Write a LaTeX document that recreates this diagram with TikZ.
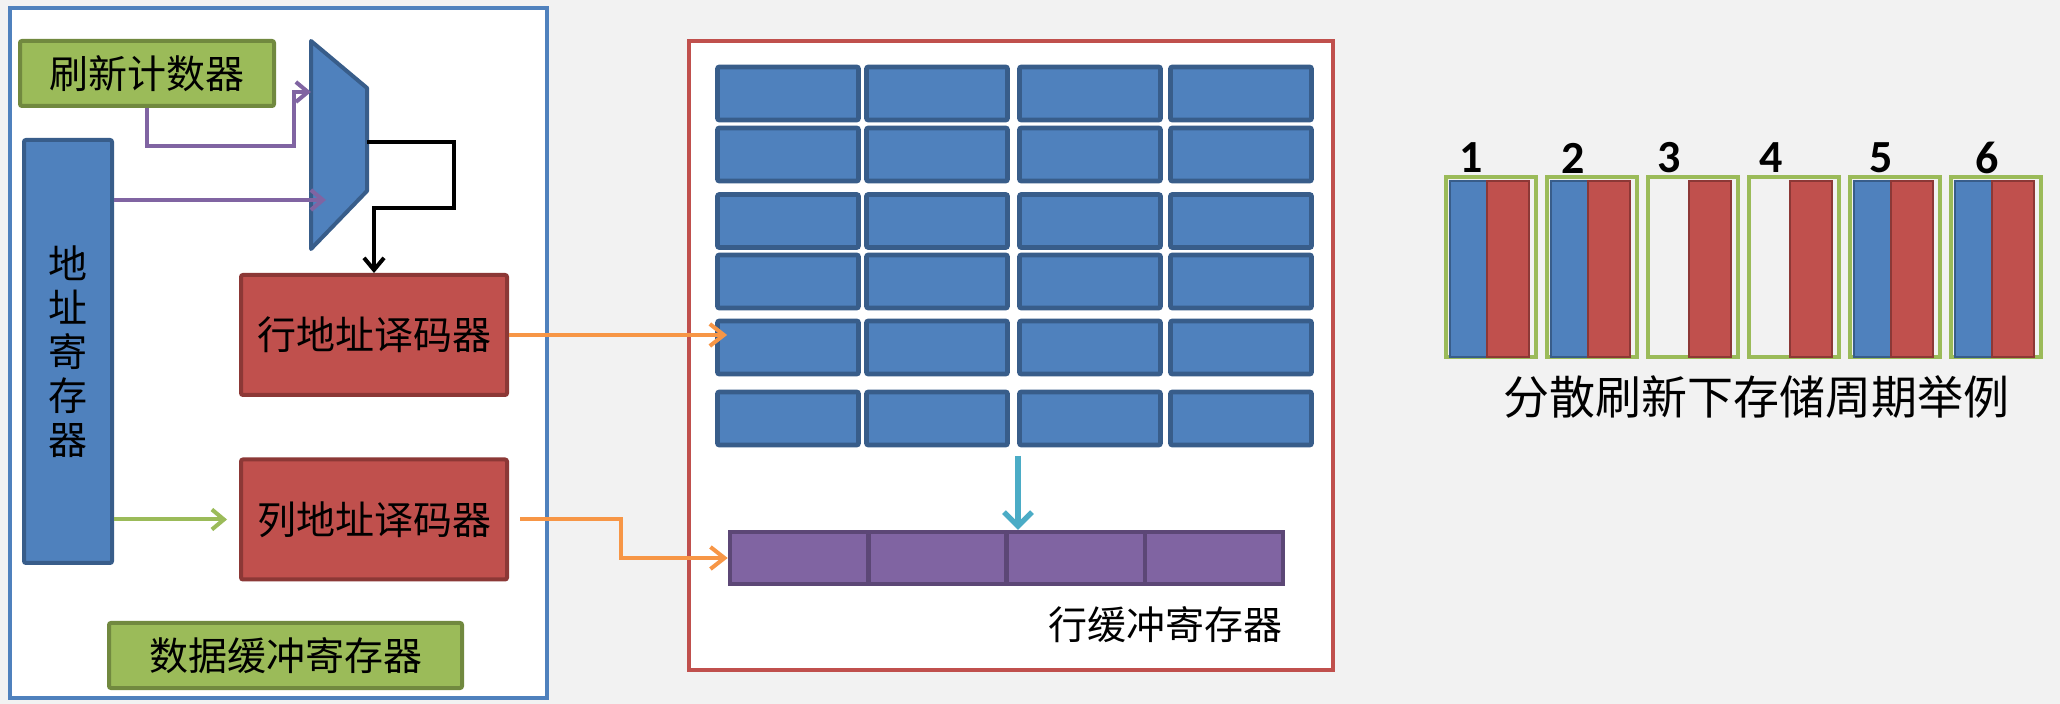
\documentclass[tikz,border=0pt]{standalone}
\usepackage{fontspec}
\newfontfamily\cjk{Noto Sans CJK SC}
\newfontfamily\digitfont{Carlito}
\usetikzlibrary{arrows.meta}
\definecolor{ofblue}{RGB}{79,129,189}
\definecolor{ofblueD}{RGB}{56,93,138}
\definecolor{ofred}{RGB}{192,80,77}
\definecolor{ofredD}{RGB}{140,56,54}
\definecolor{ofgreen}{RGB}{155,187,89}
\definecolor{ofgreenD}{RGB}{113,137,63}
\definecolor{ofpurple}{RGB}{128,100,162}
\definecolor{ofpurpleD}{RGB}{92,71,118}
\definecolor{oforange}{RGB}{247,150,70}
\definecolor{ofaqua}{RGB}{75,172,198}
\definecolor{bggray}{RGB}{242,242,242}
\begin{document}
\begin{tikzpicture}
  [x=0.5pt,y=-0.5pt,
   blk/.style={draw,line width=2pt,rounded corners=1pt,inner sep=0pt,font=\cjk\fontsize{19.5}{22}\selectfont},
   greenblk/.style={blk,fill=ofgreen,draw=ofgreenD},
   redblk/.style={blk,fill=ofred,draw=ofredD},
   blueblk/.style={blk,fill=ofblue,draw=ofblueD},
   cell/.style={blueblk,line width=2.4pt,minimum width=70.5pt,minimum height=26.5pt},
   bufcell/.style={blk,fill=ofpurple,draw=ofpurpleD,line width=2.2pt,rounded corners=0pt,minimum width=69.1pt,minimum height=26pt},
   frame/.style={fill=white,line width=2pt,inner sep=0pt},
   wire/.style={line width=2pt,-{Straight Barb[length=6pt,width=10pt]}},
   orangewire/.style={line width=2pt,oforange,-{Straight Barb[length=7pt,width=11pt]}},
   aquawire/.style={line width=2.6pt,ofaqua,-{Straight Barb[length=7pt,width=14pt]}}]
  \fill[bggray] (0,0) rectangle (2060,704);
  \node[frame,draw=ofblue,minimum width=268.5pt,minimum height=345pt] (leftframe) at (278.5,353) {};
  \node[frame,draw=ofred,minimum width=322pt,minimum height=314.5pt] (rightframe) at (1011,355.5) {};

  \node[greenblk,minimum width=127pt,minimum height=32.5pt] (counter) at (147,73.5) {刷新计数器};
  \node[blueblk,minimum width=44pt,minimum height=211.5pt,align=center] (addrreg) at (68,351.5) {地\\址\\寄\\存\\器};
  \draw[fill=ofblue,draw=ofblueD,line width=2pt,line join=round] (311,41) -- (367,88) -- (367,191) -- (311,249) -- cycle;
  \coordinate (muxin1) at (311,92);
  \coordinate (muxin2) at (326,200);
  \coordinate (muxout) at (367,142);
  \node[redblk,minimum width=133pt,minimum height=60pt] (rowdec) at (374,335) {行地址译码器};
  \node[redblk,minimum width=133pt,minimum height=60pt] (coldec) at (374,519.5) {列地址译码器};
  \node[greenblk,minimum width=176.5pt,minimum height=32.5pt] (databuf) at (285.5,655.5) {数据缓冲寄存器};

  \foreach \r/\y in {1/93.5,2/154.5,3/221,4/281.5,5/347.5,6/418.5}
    \foreach \c/\x in {1/788,2/937,3/1090,4/1241}
      \node[cell] (cell\r\c) at (\x,\y) {};
  \foreach \c/\x in {1/799,2/937.4,3/1075.6,4/1213.9}
    \node[bufcell] (buf\c) at (\x,558) {};
  \node[font=\cjk\fontsize{19.5}{22}\selectfont] (buflabel) at (1165,625) {行缓冲寄存器};

  \coordinate (bend1) at (294,146);
  \coordinate (bend2) at (454,208);
  \coordinate (bend3) at (621,558);
  \coordinate (rdout) at (1018,456);
  \draw[wire,ofpurple] (counter.south) |- (bend1) |- (muxin1);
  \draw[wire,ofpurple] (addrreg.east |- muxin2) -- (muxin2);
  \draw[wire,black] (muxout) -| (bend2) -| (rowdec.north);
  \draw[wire,ofgreen,shorten >=6pt] (addrreg.east |- coldec) -- (coldec.west);
  \draw[orangewire,shorten >=-6pt] (rowdec.east) -- (rowdec.east -| cell51.west);
  \draw[orangewire,shorten <=5.5pt] (coldec.east) -| (bend3) -- (buf1.west);
  \draw[aquawire] (rdout) -- (rdout |- buf3.north);

  \foreach \i/\l/\n/\b in {1/1446/1471/1,2/1547/1573/1,3/1648/1669/0,4/1749/1771/0,5/1850/1881/1,6/1951/1987/1}
  {
    \node[draw=ofgreen,line width=2pt,minimum width=45pt,minimum height=90pt,inner sep=0pt] (cyc\i) at (\l+45,267) {};
    \ifnum\b=1
      \draw[fill=ofblue,draw=ofblueD,line width=1.2pt] (\l+4,181) rectangle (\l+41,357);
    \fi
    \draw[fill=ofred,draw=ofredD,line width=1.2pt] (\l+41,181) rectangle (\l+83,357);
    \node[font=\digitfont\bfseries\fontsize{23}{26}\selectfont] (num\i) at (\n,158) {\i};
  }
  \node[font=\cjk\fontsize{23}{26}\selectfont] (caption) at (1756,397) {分散刷新下存储周期举例};
\end{tikzpicture}
\end{document}
